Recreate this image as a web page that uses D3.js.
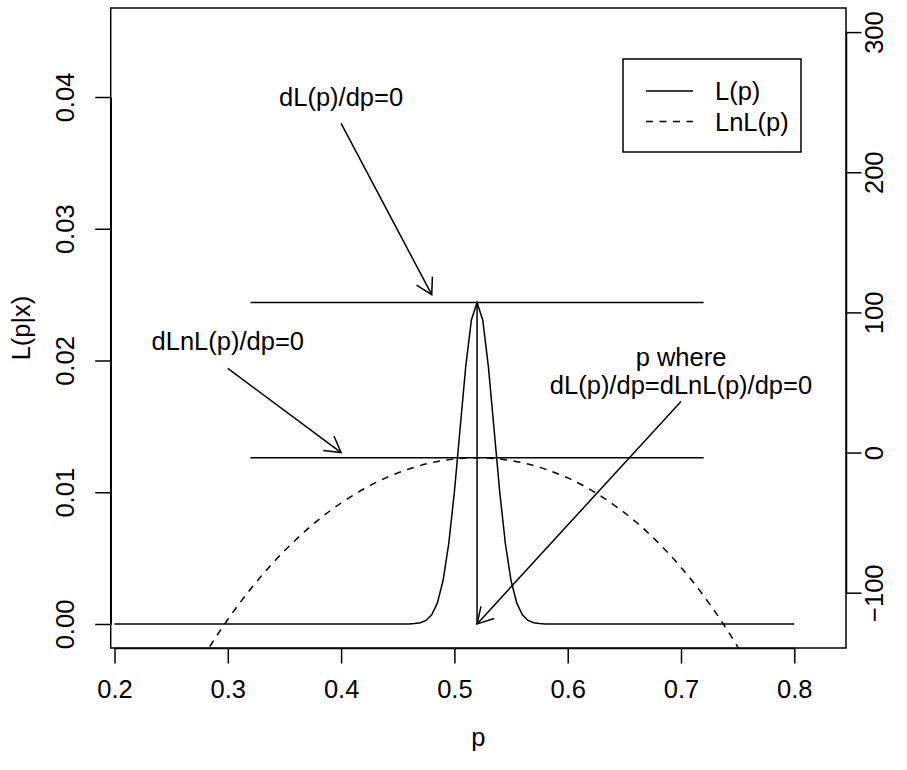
<!DOCTYPE html>
<html>
<head>
<meta charset="utf-8">
<script src="https://cdn.jsdelivr.net/npm/d3@7"></script>
<style>
  body { margin: 0; background: #fff; }
  text { font-family: "Liberation Sans", Arial, Helvetica, sans-serif; fill: #000; }
</style>
</head>
<body>
<div id="chart"></div>
<script>
// Set the dimensions of the page and the plot box
const width = 907;
const height = 770;
const box = { left: 110.7, right: 846, top: 8, bottom: 648 };
const fontSize = 25.5;

// p values for the likelihood curve and L(p)
const pL = [0.20, 0.43, 0.44, 0.45, 0.455, 0.46, 0.465, 0.47, 0.475, 0.48, 0.485, 0.49, 0.495,
  0.50, 0.505, 0.51, 0.515, 0.52, 0.525, 0.53, 0.535, 0.54, 0.545, 0.55, 0.555, 0.56,
  0.565, 0.57, 0.575, 0.58, 0.585, 0.59, 0.60, 0.61, 0.80];
const likelihood = [0, 0, 0, 0.0000005, 0.000002, 0.000008, 0.00003, 0.000094, 0.00027, 0.0007,
  0.0016, 0.0033, 0.00609, 0.01003, 0.0148, 0.01954, 0.02308, 0.0244, 0.02308, 0.01954,
  0.0148, 0.01003, 0.00609, 0.0033, 0.0016, 0.0007, 0.00027, 0.000094, 0.00003, 0.000008,
  0.000002, 0.0000005, 0, 0, 0];

// p values for the log likelihood curve and LnL(p) (right axis)
const pLn = [0.26, 0.28, 0.30, 0.32, 0.34, 0.36, 0.38, 0.40, 0.42, 0.44, 0.46, 0.48, 0.50,
  0.52, 0.54, 0.56, 0.58, 0.60, 0.62, 0.64, 0.66, 0.68, 0.70, 0.72, 0.74, 0.76, 0.78];
const logLik = [-171.7, -143.7, -119.1, -97.5, -78.6, -62.2, -48.0, -36.0, -26.0, -17.9, -11.7,
  -7.2, -4.6, -3.7, -4.6, -7.3, -11.8, -18.1, -26.5, -36.9, -49.4, -64.4, -81.9, -102.2,
  -125.6, -152.6, -183.7];

// tick values
const xTicks = [0.2, 0.3, 0.4, 0.5, 0.6, 0.7, 0.8];
const yLeftTicks = [0, 0.01, 0.02, 0.03, 0.04];
const yRightTicks = [-100, 0, 100, 200, 300];

// maximum points
const pHat = 0.52;
const maxL = 0.0244;
const maxLnL = -3.7;

// scales
const x = d3.scaleLinear().domain([0.2, 0.8]).range([114.5, 794.3]);
const yL = d3.scaleLinear().domain([0, 0.04]).range([624, 97]);
const yR = d3.scaleLinear().domain([-100, 300]).range([592.7, 32.1]);

const svg = d3.select("#chart")
  .append("svg")
  .attr("width", width)
  .attr("height", height)
  .style("font-size", fontSize + "px");

svg.append("rect").attr("width", width).attr("height", height).attr("fill", "#fff");

// arrow head marker
svg.append("defs").append("marker")
  .attr("id", "head")
  .attr("viewBox", "-20 -10 22 20")
  .attr("refX", 0)
  .attr("refY", 0)
  .attr("markerUnits", "userSpaceOnUse")
  .attr("markerWidth", 22)
  .attr("markerHeight", 20)
  .attr("orient", "auto")
  .append("path")
  .attr("d", "M-15.6,-9 L0,0 L-15.6,9")
  .attr("fill", "none")
  .attr("stroke", "#000")
  .attr("stroke-width", 1.5);

svg.select("defs").append("clipPath")
  .attr("id", "plotclip")
  .append("rect")
  .attr("x", box.left)
  .attr("y", box.top)
  .attr("width", box.right - box.left)
  .attr("height", box.bottom - box.top);

// likelihood curve
const lineL = d3.line()
  .x(function(d, i) { return x(pL[i]); })
  .y(function(d) { return yL(d); });

svg.append("path")
  .attr("d", lineL(likelihood))
  .attr("fill", "none")
  .attr("stroke", "#000")
  .attr("stroke-width", 1.5);

// log likelihood curve, dashed, clipped to the box
const lineLn = d3.line()
  .x(function(d, i) { return x(pLn[i]); })
  .y(function(d) { return yR(d); })
  .curve(d3.curveMonotoneX);

svg.append("path")
  .attr("d", lineLn(logLik))
  .attr("clip-path", "url(#plotclip)")
  .attr("fill", "none")
  .attr("stroke", "#000")
  .attr("stroke-width", 1.5)
  .attr("stroke-dasharray", "7,6.5");

// horizontal lines at the maxima and the vertical line at p hat
svg.append("line")
  .attr("x1", x(0.32)).attr("x2", x(0.72))
  .attr("y1", yL(maxL)).attr("y2", yL(maxL))
  .attr("stroke", "#000").attr("stroke-width", 1.5);

svg.append("line")
  .attr("x1", x(0.32)).attr("x2", x(0.72))
  .attr("y1", yR(maxLnL)).attr("y2", yR(maxLnL))
  .attr("stroke", "#000").attr("stroke-width", 1.5);

svg.append("line")
  .attr("x1", x(pHat)).attr("x2", x(pHat))
  .attr("y1", yL(maxL)).attr("y2", yL(0))
  .attr("stroke", "#000").attr("stroke-width", 1.5);

// arrows
function arrow(x1, y1, x2, y2) {
  svg.append("line")
    .attr("x1", x1).attr("y1", y1)
    .attr("x2", x2).attr("y2", y2)
    .attr("stroke", "#000")
    .attr("stroke-width", 1.5)
    .attr("marker-end", "url(#head)");
}
arrow(x(0.4), yL(0.038), x(0.48), yL(0.025));
arrow(x(0.3), yR(60), x(0.4), yR(0));
arrow(x(0.7), yR(36.5), x(pHat), yL(0));

// annotation text, centred on its point like R's text()
function label(px, py, str) {
  svg.append("text")
    .attr("x", px)
    .attr("y", py)
    .attr("dy", "0.36em")
    .attr("text-anchor", "middle")
    .text(str);
}
label(x(0.4), yL(0.04), "dL(p)/dp=0");
label(x(0.3), yR(80), "dLnL(p)/dp=0");
label(x(0.7), yR(58.5) - 14, "p where");
label(x(0.7), yR(58.5) + 14, "dL(p)/dp=dLnL(p)/dp=0");

// box
svg.append("rect")
  .attr("x", box.left)
  .attr("y", box.top)
  .attr("width", box.right - box.left)
  .attr("height", box.bottom - box.top)
  .attr("fill", "none")
  .attr("stroke", "#000")
  .attr("stroke-width", 1.5);

// x axis
const xAxis = svg.append("g")
  .attr("transform", "translate(0," + box.bottom + ")")
  .call(d3.axisBottom(x).tickValues(xTicks).tickSize(15.5).tickSizeOuter(0).tickPadding(0)
    .tickFormat(d3.format(".1f")));
xAxis.selectAll("text").attr("dy", null).attr("y", 50).style("font-size", fontSize + "px");

// left axis
const leftAxis = svg.append("g")
  .attr("transform", "translate(" + box.left + ",0)")
  .call(d3.axisLeft(yL).tickValues(yLeftTicks).tickSize(15.5).tickSizeOuter(0)
    .tickFormat(d3.format(".2f")));
leftAxis.selectAll("text")
  .attr("x", null).attr("dy", null)
  .attr("transform", "translate(-36.7,0) rotate(-90)")
  .attr("text-anchor", "middle")
  .attr("y", 0)
  .style("font-size", fontSize + "px");

// right axis
const rightAxis = svg.append("g")
  .attr("transform", "translate(" + box.right + ",0)")
  .call(d3.axisRight(yR).tickValues(yRightTicks).tickSize(15.5).tickSizeOuter(0)
    .tickFormat(function(d) { return d < 0 ? "\u2212" + Math.abs(d) : d; }));
rightAxis.selectAll("text")
  .attr("x", null).attr("dy", null)
  .attr("transform", "translate(36.7,0) rotate(-90)")
  .attr("text-anchor", "middle")
  .attr("y", 0)
  .style("font-size", fontSize + "px");

svg.selectAll(".domain").attr("stroke-width", 1.5);
svg.selectAll(".tick line").attr("stroke-width", 1.5);
svg.selectAll(".tick text").attr("fill", "#000").style("font-family", "\"Liberation Sans\", Arial, sans-serif");

// axis titles
svg.append("text")
  .attr("x", (box.left + box.right) / 2)
  .attr("y", 746)
  .attr("text-anchor", "middle")
  .text("p");

svg.append("text")
  .attr("transform", "translate(30," + (box.top + box.bottom) / 2 + ") rotate(-90)")
  .attr("text-anchor", "middle")
  .text("L(p|x)");

// legend
const legend = svg.append("g").attr("class", "legend");
legend.append("rect")
  .attr("x", 623).attr("y", 59)
  .attr("width", 178).attr("height", 93)
  .attr("fill", "#fff")
  .attr("stroke", "#000")
  .attr("stroke-width", 1.5);

const legendNames = ["L(p)", "LnL(p)"];
const legendDash = [null, "7,6.5"];
legendNames.forEach(function(name, i) {
  const ly = 91 + i * 30.5;
  legend.append("line")
    .attr("x1", 646).attr("x2", 693)
    .attr("y1", ly).attr("y2", ly)
    .attr("stroke", "#000")
    .attr("stroke-width", 1.5)
    .attr("stroke-dasharray", legendDash[i]);
  legend.append("text")
    .attr("x", 715)
    .attr("y", ly)
    .attr("dy", "0.36em")
    .text(name);
});
</script>
</body>
</html>
